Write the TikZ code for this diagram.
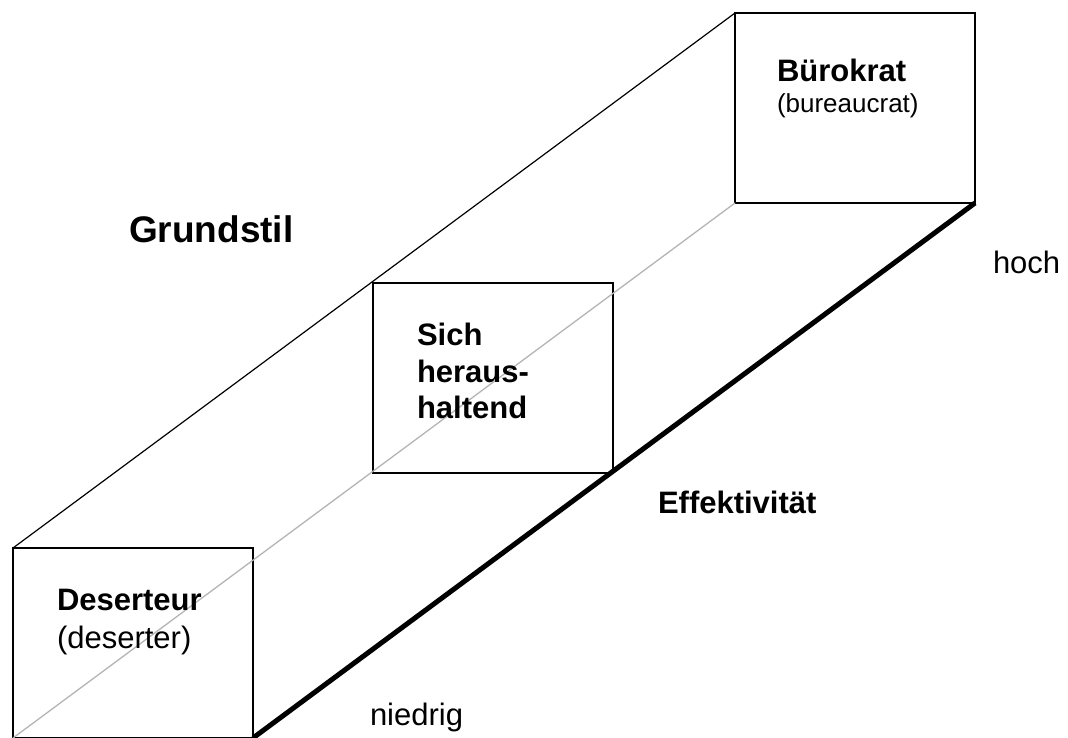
\documentclass[tikz,border=0pt]{standalone}
\usepackage{fontspec}
\setmainfont{Liberation Sans}
\begin{document}
\begin{tikzpicture}[x=1pt,y=-1pt,
  stylebox/.style={draw=black,line width=1.4pt,minimum width=240pt,minimum height=190pt,anchor=north west,inner sep=0pt,outer sep=0pt},
  lbl/.style={anchor=base west,inner sep=0pt,outer sep=0pt,font=\fontsize{31}{37}\selectfont\bfseries},
  sublbl/.style={anchor=base west,inner sep=0pt,outer sep=0pt,font=\fontsize{31}{37}\selectfont},
  thinline/.style={line width=1.2pt,black},
  greyline/.style={line width=1.3pt,color={rgb,255:red,180;green,180;blue,180}},
  thickline/.style={line width=5pt,black}]
\useasboundingbox (0,0) rectangle (1068,738);
\clip (0,0) rectangle (1068,738);
% boxes
\node[stylebox] (des) at (13,548) {};
\node[stylebox] (mid) at (373,283) {};
\node[stylebox] (bur) at (735,13) {};
% connecting lines
\draw[thinline] (des.north west) -- (bur.north west);
\draw[greyline] (des.south west) -- (bur.south west);
\draw[thickline] (des.south east) -- (bur.south east);
% texts
\node[lbl,font=\fontsize{37}{44}\selectfont\bfseries] (grund) at (129,243) {Grundstil};
\node[lbl] (burt) at (777,82) {Bürokrat};
\node[sublbl,font=\fontsize{26}{31}\selectfont] (burs) at (777,113) {(bureaucrat)};
\node[lbl] (dest) at (57,610) {Deserteur};
\node[sublbl] (dess) at (57,648) {(deserter)};
\node[lbl] (mid1) at (417,345) {Sich};
\node[lbl] (mid2) at (417,382) {heraus-};
\node[lbl] (mid3) at (417,418) {haltend};
\node[lbl] (eff) at (658,513) {Effektivität};
\node[sublbl] (hoch) at (993,273) {hoch};
\node[sublbl] (nied) at (370,725) {niedrig};
\end{tikzpicture}
\end{document}
